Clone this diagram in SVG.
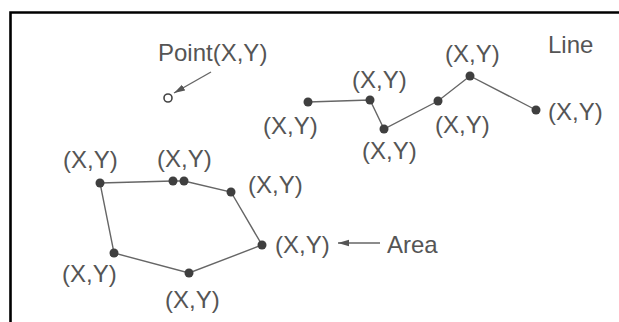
<svg xmlns="http://www.w3.org/2000/svg" width="619" height="322" viewBox="0 0 619 322">
<style>
.t{font-family:"Liberation Sans",Arial,sans-serif;font-size:24px;fill:#555}
.c{stroke:#666;stroke-width:1.4;fill:none}
.d{fill:#3f3f3f}
.f{stroke:#000;stroke-width:2.6;fill:none}
</style>
<defs>
<marker id="ah" markerWidth="12" markerHeight="8" refX="11" refY="4" orient="auto" markerUnits="userSpaceOnUse">
<path d="M0,0.8 L11,4 L0,7.2 Z" fill="#555"/>
</marker>
</defs>
<rect width="619" height="322" fill="#fff"/>
<path class="f" d="M10.5,322 V12.5 H619"/>
<g id="connectors">
<polyline class="c" points="308,102 370,100 384,129 438,101 470,76 536,110"/>
<polygon class="c" points="100,183 173,181 184,181 231,192 262,245 189,273 114,253"/>
<line class="c" x1="211" y1="72" x2="174" y2="93" marker-end="url(#ah)"/>
<line class="c" x1="380" y1="243" x2="338" y2="243" marker-end="url(#ah)"/>
</g>
<g id="point">
<circle cx="168" cy="98" r="4" fill="none" stroke="#444" stroke-width="1.6"/>
<text class="t" x="158" y="61">Point(X,Y)</text>
</g>
<g id="line">
<text class="t" x="548" y="53">Line</text>
<g id="l1"><circle class="d" cx="308" cy="102" r="4.5"/><text class="t" x="263" y="134">(X,Y)</text></g>
<g id="l2"><circle class="d" cx="370" cy="100" r="4.5"/><text class="t" x="352" y="88">(X,Y)</text></g>
<g id="l3"><circle class="d" cx="384" cy="129" r="4.5"/><text class="t" x="362" y="159">(X,Y)</text></g>
<g id="l4"><circle class="d" cx="438" cy="101" r="4.5"/><text class="t" x="435" y="133">(X,Y)</text></g>
<g id="l5"><circle class="d" cx="470" cy="76" r="4.5"/><text class="t" x="445" y="62">(X,Y)</text></g>
<g id="l6"><circle class="d" cx="536" cy="110" r="4.5"/><text class="t" x="548" y="120">(X,Y)</text></g>
</g>
<g id="area">
<text class="t" x="387" y="253">Area</text>
<g id="a1"><circle class="d" cx="100" cy="183" r="4.5"/><text class="t" x="63" y="168">(X,Y)</text></g>
<g id="a2"><circle class="d" cx="173" cy="181" r="4.5"/><circle class="d" cx="184" cy="181" r="4.5"/><text class="t" x="157" y="167">(X,Y)</text></g>
<g id="a3"><circle class="d" cx="231" cy="192" r="4.5"/><text class="t" x="248" y="193">(X,Y)</text></g>
<g id="a4"><circle class="d" cx="262" cy="245" r="4.5"/><text class="t" x="275" y="253">(X,Y)</text></g>
<g id="a5"><circle class="d" cx="189" cy="273" r="4.5"/><text class="t" x="165" y="308">(X,Y)</text></g>
<g id="a6"><circle class="d" cx="114" cy="253" r="4.5"/><text class="t" x="62" y="282">(X,Y)</text></g>
</g>
</svg>
